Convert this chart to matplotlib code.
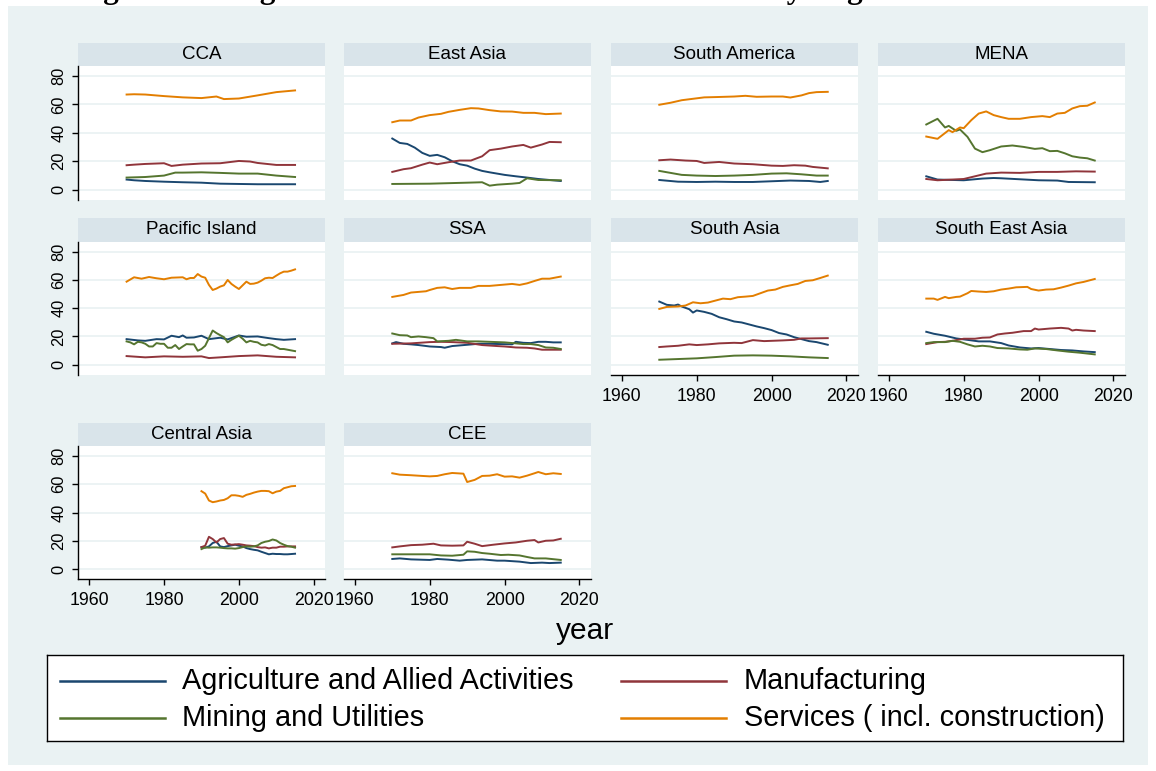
import matplotlib
matplotlib.use("Agg")
import matplotlib.pyplot as plt
from matplotlib.lines import Line2D

plt.rcParams['font.family'] = ['Liberation Sans', 'DejaVu Sans']

# ---------------------------------------------------------------------------
# Value added shares (%) by sector, read as (year, share) pairs per region
# ---------------------------------------------------------------------------
SECTORS = ["Agriculture and Allied Activities", "Manufacturing",
           "Mining and Utilities", "Services ( incl. construction)"]
SECTOR_COLORS = ["#1a476f", "#90353b", "#55752f", "#e37e00"]

cca_agr = [(1970, 7.1), (1972, 6.6), (1975, 6.1), (1980, 5.6), (1985, 5.2), (1990, 4.9),
           (1995, 4.2), (2000, 4.0), (2005, 3.8), (2010, 3.8), (2015, 3.8)]
cca_man = [(1970, 17.2), (1972, 17.6), (1975, 18.1), (1980, 18.6), (1982, 16.7), (1985, 17.6),
           (1990, 18.4), (1995, 18.6), (2000, 20.2), (2003, 19.8), (2005, 18.8), (2010, 17.4),
           (2015, 17.4)]
cca_min = [(1970, 8.5), (1975, 8.9), (1980, 9.9), (1983, 12.0), (1985, 12.0), (1990, 12.2),
           (1995, 11.8), (2000, 11.3), (2005, 11.3), (2010, 9.9), (2015, 8.9)]
cca_ser = [(1970, 67.0), (1972, 67.2), (1975, 67.0), (1980, 65.9), (1985, 65.0), (1990, 64.5),
           (1994, 65.6), (1996, 63.8), (2000, 64.2), (2005, 66.4), (2010, 68.7), (2015, 69.9)]

eas_agr = [(1970, 36.0), (1972, 32.9), (1974, 32.2), (1976, 29.6), (1978, 25.9), (1980, 23.8),
           (1982, 24.5), (1984, 22.8), (1986, 20.0), (1988, 17.9), (1990, 16.9), (1992, 14.8),
           (1994, 13.2), (1996, 12.2), (1998, 11.3), (2000, 10.4), (2003, 9.4), (2006, 8.5),
           (2009, 7.5), (2012, 6.8), (2015, 6.1)]
eas_man = [(1970, 12.5), (1973, 14.4), (1975, 15.1), (1978, 17.6), (1980, 19.1), (1982, 17.9),
           (1985, 19.3), (1988, 20.5), (1991, 20.5), (1994, 23.5), (1996, 27.8), (1999, 28.9),
           (2002, 30.4), (2005, 31.5), (2007, 29.6), (2010, 31.8), (2012, 33.6), (2015, 33.4)]
eas_min = [(1970, 4.0), (1980, 4.2), (1990, 4.9), (1994, 5.2), (1996, 2.8), (1998, 3.5),
           (2002, 4.2), (2004, 4.7), (2006, 8.0), (2009, 6.8), (2015, 6.6)]
eas_ser = [(1970, 47.5), (1972, 48.7), (1975, 48.7), (1977, 50.8), (1980, 52.5), (1983, 53.4),
           (1985, 54.8), (1988, 56.2), (1991, 57.4), (1993, 57.2), (1996, 56.0), (1999, 55.1),
           (2002, 55.0), (2005, 54.1), (2008, 54.1), (2011, 53.2), (2015, 53.6)]

sam_agr = [(1970, 6.8), (1975, 5.6), (1980, 5.4), (1985, 5.6), (1990, 5.4), (1995, 5.4),
           (2000, 5.9), (2005, 6.4), (2010, 6.1), (2013, 5.4), (2015, 6.1)]
sam_man = [(1970, 20.7), (1973, 21.2), (1977, 20.5), (1980, 20.2), (1982, 18.8), (1986, 19.5),
           (1990, 18.4), (1995, 17.9), (2000, 16.9), (2003, 16.7), (2006, 17.2), (2009, 16.9),
           (2011, 16.0), (2015, 15.0)]
sam_min = [(1970, 13.2), (1973, 11.8), (1976, 10.4), (1980, 9.9), (1985, 9.6), (1990, 9.9),
           (1995, 10.4), (2000, 11.3), (2004, 11.5), (2008, 10.8), (2012, 9.9), (2015, 9.9)]
sam_ser = [(1970, 59.8), (1973, 61.2), (1976, 63.0), (1979, 64.0), (1982, 65.0), (1985, 65.2),
           (1990, 65.6), (1993, 66.1), (1996, 65.4), (2000, 65.6), (2003, 65.6), (2005, 64.9),
           (2008, 66.4), (2010, 68.0), (2012, 68.7), (2015, 68.9)]

mena_agr = [(1970, 9.4), (1973, 7.1), (1980, 6.6), (1985, 7.8), (1988, 8.2), (1990, 8.0),
            (1995, 7.3), (2000, 6.6), (2005, 6.4), (2008, 5.4), (2015, 5.2)]
mena_man = [(1970, 7.5), (1973, 6.6), (1980, 7.5), (1983, 9.4), (1986, 11.3), (1990, 12.0),
            (1995, 11.8), (2000, 12.5), (2005, 12.5), (2010, 12.9), (2015, 12.7)]
mena_min = [(1970, 45.9), (1973, 49.9), (1975, 43.8), (1976, 44.9), (1978, 41.4), (1979, 42.4),
            (1981, 37.2), (1983, 28.9), (1985, 26.4), (1987, 27.8), (1990, 30.4), (1993, 31.1),
            (1996, 30.1), (1999, 28.7), (2001, 29.2), (2003, 27.1), (2005, 27.3), (2007, 25.6),
            (2009, 23.5), (2011, 22.6), (2013, 22.1), (2015, 20.5)]
mena_ser = [(1970, 37.4), (1973, 35.8), (1976, 41.9), (1977, 40.5), (1979, 43.8), (1980, 43.3),
            (1982, 48.9), (1984, 53.6), (1986, 55.1), (1988, 52.5), (1990, 51.1), (1992, 49.9),
            (1995, 49.9), (1998, 51.1), (2001, 51.8), (2003, 51.1), (2005, 53.6), (2007, 54.1),
            (2009, 57.2), (2011, 58.8), (2013, 59.1), (2015, 61.4)]

pac_agr = [(1970, 18.1), (1973, 17.2), (1975, 16.9), (1978, 18.1), (1980, 17.9), (1982, 20.5),
           (1984, 19.5), (1985, 20.7), (1986, 19.1), (1988, 19.3), (1990, 20.5), (1992, 18.1),
           (1995, 19.1), (1997, 17.9), (2000, 20.7), (2002, 19.8), (2005, 20.0), (2008, 18.8),
           (2010, 18.1), (2012, 17.6), (2015, 18.1)]
pac_man = [(1970, 6.1), (1975, 5.2), (1980, 5.9), (1985, 5.6), (1990, 5.9), (1992, 4.7),
           (1995, 5.2), (2000, 6.1), (2005, 6.6), (2010, 5.6), (2015, 5.2)]
pac_min = [(1970, 16.5), (1971, 15.8), (1972, 14.4), (1973, 16.2), (1974, 15.8), (1975, 14.8),
           (1976, 12.9), (1977, 12.9), (1978, 15.3), (1979, 14.8), (1980, 14.8), (1981, 12.0),
           (1982, 12.0), (1983, 13.9), (1984, 11.1), (1985, 12.9), (1986, 14.6), (1987, 14.4),
           (1988, 14.4), (1989, 9.9), (1990, 11.1), (1991, 13.4), (1992, 18.8), (1993, 24.2),
           (1994, 22.4), (1995, 20.9), (1996, 19.5), (1997, 15.8), (1998, 17.6), (1999, 19.1),
           (2000, 20.5), (2001, 18.4), (2002, 15.8), (2003, 16.9), (2004, 16.2), (2005, 15.8),
           (2006, 14.1), (2007, 13.6), (2008, 14.6), (2009, 13.9), (2010, 12.5), (2011, 11.1),
           (2012, 11.1), (2013, 10.6), (2014, 10.1), (2015, 9.6)]
pac_ser = [(1970, 58.8), (1972, 61.9), (1974, 60.9), (1976, 62.1), (1978, 61.2), (1980, 60.5),
           (1982, 61.6), (1985, 61.9), (1986, 60.5), (1987, 61.4), (1988, 61.4), (1989, 64.2),
           (1990, 62.4), (1991, 61.6), (1992, 56.5), (1993, 52.9), (1994, 53.9), (1995, 55.3),
           (1996, 56.2), (1997, 60.0), (1998, 57.2), (1999, 55.3), (2000, 53.6), (2001, 56.2),
           (2002, 58.8), (2003, 57.2), (2004, 57.4), (2005, 58.1), (2006, 59.5), (2007, 61.2),
           (2008, 61.6), (2009, 61.4), (2010, 63.1), (2011, 64.7), (2012, 65.9), (2013, 65.9),
           (2014, 66.6), (2015, 67.5)]

ssa_agr = [(1970, 15.1), (1971, 16.0), (1973, 14.8), (1975, 14.4), (1977, 13.9), (1980, 12.9),
           (1983, 12.5), (1984, 12.0), (1986, 13.2), (1990, 14.1), (1993, 14.8), (1996, 14.8),
           (1999, 14.6), (2002, 14.4), (2003, 16.2), (2005, 15.5), (2007, 15.3), (2009, 16.2),
           (2011, 16.2), (2013, 15.8), (2015, 15.8)]
ssa_man = [(1970, 14.8), (1975, 15.1), (1980, 16.0), (1983, 16.2), (1986, 16.0), (1990, 15.5),
           (1994, 13.9), (1998, 13.2), (2000, 12.9), (2003, 12.2), (2006, 12.0), (2008, 11.5),
           (2010, 10.6), (2012, 10.6), (2015, 10.6)]
ssa_min = [(1970, 22.1), (1972, 20.9), (1974, 20.7), (1975, 19.5), (1977, 20.0), (1979, 19.5),
           (1981, 18.8), (1982, 16.5), (1985, 16.9), (1987, 17.6), (1990, 16.5), (1993, 16.5),
           (1996, 16.2), (2000, 15.8), (2003, 15.1), (2005, 14.6), (2007, 14.6), (2009, 13.9),
           (2011, 12.2), (2013, 12.0), (2015, 11.1)]
ssa_ser = [(1970, 48.0), (1973, 49.4), (1975, 51.1), (1979, 52.0), (1980, 52.9), (1982, 54.4),
           (1984, 54.8), (1986, 53.6), (1988, 54.4), (1991, 54.4), (1993, 55.8), (1996, 55.8),
           (1999, 56.5), (2002, 57.2), (2004, 56.5), (2006, 57.6), (2008, 59.3), (2010, 60.9),
           (2012, 60.9), (2015, 62.4)]

sas_agr = [(1970, 44.7), (1972, 42.4), (1974, 41.9), (1975, 42.6), (1976, 41.2), (1978, 39.3),
           (1979, 36.9), (1980, 38.4), (1982, 37.4), (1984, 36.0), (1986, 33.6), (1988, 32.2),
           (1990, 30.6), (1992, 29.9), (1994, 28.5), (1996, 27.1), (1998, 25.9), (2000, 24.5),
           (2002, 22.4), (2004, 21.4), (2006, 19.5), (2008, 18.1), (2010, 16.7), (2012, 16.0),
           (2015, 14.1)]
sas_man = [(1970, 12.5), (1972, 12.9), (1975, 13.4), (1978, 14.4), (1980, 13.9), (1983, 14.4),
           (1986, 15.1), (1990, 15.5), (1992, 15.3), (1995, 17.4), (1998, 16.7), (2000, 16.9),
           (2003, 17.2), (2006, 17.6), (2008, 18.6), (2010, 18.6), (2015, 18.8)]
sas_min = [(1970, 3.5), (1975, 4.0), (1980, 4.5), (1985, 5.4), (1990, 6.4), (1995, 6.6),
           (2000, 6.4), (2005, 5.9), (2010, 5.2), (2015, 4.7)]
sas_ser = [(1970, 39.5), (1972, 40.9), (1975, 41.2), (1977, 41.9), (1979, 44.2), (1981, 43.5),
           (1983, 44.0), (1985, 45.4), (1987, 46.8), (1989, 46.4), (1991, 47.8), (1993, 48.2),
           (1995, 48.7), (1997, 50.6), (1999, 52.5), (2001, 53.2), (2003, 55.1), (2005, 56.2),
           (2007, 57.2), (2009, 59.3), (2011, 59.8), (2013, 61.4), (2015, 63.1)]

sea_agr = [(1970, 23.3), (1972, 21.9), (1975, 20.5), (1978, 18.6), (1981, 17.6), (1984, 16.5),
           (1987, 16.5), (1990, 15.3), (1992, 13.6), (1995, 12.2), (1998, 11.5), (2000, 11.8),
           (2003, 11.1), (2006, 10.4), (2009, 10.1), (2012, 9.4), (2015, 8.9)]
sea_man = [(1970, 14.6), (1973, 16.0), (1975, 16.2), (1977, 16.9), (1980, 18.4), (1983, 18.4),
           (1985, 19.1), (1987, 19.3), (1989, 21.4), (1991, 22.1), (1993, 22.6), (1996, 23.8),
           (1998, 23.8), (1999, 25.6), (2000, 24.9), (2003, 25.6), (2006, 26.1), (2008, 25.6),
           (2009, 24.2), (2010, 24.7), (2012, 24.2), (2015, 23.8)]
sea_min = [(1970, 15.3), (1972, 16.0), (1975, 16.0), (1977, 16.9), (1979, 16.2), (1981, 14.4),
           (1983, 12.9), (1985, 13.4), (1987, 12.9), (1989, 11.8), (1992, 11.5), (1995, 10.8),
           (1997, 10.6), (1999, 11.5), (2002, 11.1), (2005, 10.1), (2008, 9.2), (2011, 8.5),
           (2015, 7.3)]
sea_ser = [(1970, 46.8), (1972, 46.8), (1973, 45.9), (1975, 48.0), (1976, 47.1), (1978, 48.0),
           (1979, 48.2), (1981, 50.6), (1982, 52.2), (1984, 51.8), (1986, 51.5), (1988, 52.0),
           (1990, 53.2), (1992, 53.9), (1994, 54.8), (1997, 55.1), (1998, 53.6), (2000, 52.5),
           (2002, 53.2), (2004, 53.4), (2006, 54.6), (2008, 56.0), (2010, 57.6), (2012, 58.6),
           (2015, 60.7)]

cas_agr = [(1990, 15.5), (1991, 15.1), (1992, 16.0), (1993, 18.4), (1994, 19.3), (1995, 16.0),
           (1996, 15.5), (1997, 16.2), (1998, 16.7), (1999, 17.2), (2000, 16.5), (2001, 16.0),
           (2002, 14.8), (2003, 14.1), (2004, 13.6), (2005, 13.2), (2006, 12.2), (2007, 11.3),
           (2008, 10.4), (2009, 10.8), (2010, 10.6), (2011, 10.6), (2012, 10.4), (2013, 10.4),
           (2014, 10.6), (2015, 10.8)]
cas_man = [(1990, 15.5), (1991, 16.5), (1992, 22.8), (1993, 21.2), (1994, 18.8), (1995, 21.2),
           (1996, 21.9), (1997, 17.9), (1998, 17.2), (1999, 17.4), (2000, 17.6), (2001, 17.2),
           (2002, 16.7), (2003, 16.5), (2004, 16.2), (2005, 15.5), (2006, 15.1), (2007, 15.3),
           (2008, 14.6), (2009, 15.1), (2010, 15.1), (2011, 15.8), (2012, 15.8), (2013, 16.0),
           (2014, 16.0), (2015, 16.0)]
cas_min = [(1990, 14.1), (1991, 15.3), (1992, 15.1), (1993, 15.3), (1994, 15.3), (1995, 15.1),
           (1996, 14.8), (1997, 14.6), (1998, 14.6), (1999, 14.4), (2000, 14.8), (2001, 15.5),
           (2002, 16.0), (2003, 15.8), (2004, 16.0), (2005, 16.7), (2006, 18.4), (2007, 19.3),
           (2008, 19.8), (2009, 20.9), (2010, 20.2), (2011, 18.4), (2012, 17.2), (2013, 16.2),
           (2014, 15.8), (2015, 15.1)]
cas_ser = [(1990, 55.1), (1991, 53.4), (1992, 48.5), (1993, 47.3), (1994, 47.8), (1995, 48.5),
           (1996, 48.9), (1997, 50.1), (1998, 52.2), (1999, 52.2), (2000, 51.8), (2001, 51.1),
           (2002, 52.5), (2003, 53.2), (2004, 54.1), (2005, 54.8), (2006, 55.3), (2007, 55.3),
           (2008, 55.1), (2009, 53.6), (2010, 54.8), (2011, 55.3), (2012, 57.2), (2013, 57.9),
           (2014, 58.6), (2015, 58.8)]

cee_agr = [(1970, 7.1), (1972, 7.5), (1975, 6.8), (1980, 6.4), (1982, 7.1), (1985, 6.6),
           (1988, 5.9), (1990, 6.4), (1994, 6.8), (1998, 5.9), (2000, 5.9), (2004, 5.2),
           (2007, 4.2), (2010, 4.5), (2012, 4.2), (2015, 4.5)]
cee_man = [(1970, 15.3), (1972, 16.0), (1975, 16.9), (1978, 17.2), (1981, 17.9), (1983, 16.7),
           (1986, 16.5), (1989, 16.7), (1990, 19.3), (1992, 17.9), (1994, 16.2), (1997, 17.2),
           (2000, 18.1), (2003, 18.8), (2006, 20.0), (2008, 20.5), (2009, 18.8), (2011, 20.0),
           (2013, 20.2), (2015, 21.4)]
cee_min = [(1970, 10.4), (1975, 10.4), (1980, 10.4), (1983, 9.6), (1986, 9.4), (1989, 10.1),
           (1990, 12.5), (1992, 12.2), (1994, 11.3), (1996, 10.8), (1999, 9.9), (2001, 10.1),
           (2004, 9.6), (2006, 8.5), (2008, 7.5), (2011, 7.5), (2015, 6.4)]
cee_ser = [(1970, 67.8), (1972, 66.8), (1975, 66.4), (1978, 65.9), (1980, 65.6), (1982, 65.9),
           (1984, 67.1), (1986, 68.0), (1989, 67.5), (1990, 61.6), (1992, 63.1), (1994, 65.9),
           (1996, 66.1), (1998, 67.1), (2000, 65.4), (2002, 65.6), (2004, 64.7), (2006, 66.1),
           (2008, 67.8), (2009, 68.7), (2011, 67.1), (2013, 67.8), (2015, 67.3)]

REGIONS = ["CCA", "East Asia", "South America", "MENA",
           "Pacific Island", "SSA", "South Asia", "South East Asia",
           "Central Asia", "CEE"]
REGION_SERIES = {
    "CCA": [cca_agr, cca_man, cca_min, cca_ser],
    "East Asia": [eas_agr, eas_man, eas_min, eas_ser],
    "South America": [sam_agr, sam_man, sam_min, sam_ser],
    "MENA": [mena_agr, mena_man, mena_min, mena_ser],
    "Pacific Island": [pac_agr, pac_man, pac_min, pac_ser],
    "SSA": [ssa_agr, ssa_man, ssa_min, ssa_ser],
    "South Asia": [sas_agr, sas_man, sas_min, sas_ser],
    "South East Asia": [sea_agr, sea_man, sea_min, sea_ser],
    "Central Asia": [cas_agr, cas_man, cas_min, cas_ser],
    "CEE": [cee_agr, cee_man, cee_min, cee_ser],
}

X_TICKS = [1960, 1980, 2000, 2020]
Y_TICKS = [0, 20, 40, 60, 80]
TITLE = "Figure 1: Long-term Trends in Value Added Shares by Region of the World"

# ---------------------------------------------------------------------------
# Figure layout (pixel coordinates)
# ---------------------------------------------------------------------------
W, H = 1156, 771
BG = "#eaf2f3"
STRIP = "#d9e4ea"

fig = plt.figure(figsize=(W / 100, H / 100), dpi=100, facecolor="white")


def rect(x0, y0, x1, y1):
    return [x0 / W, 1 - y1 / H, (x1 - x0) / W, (y1 - y0) / H]


# graph region background
bg_ax = fig.add_axes(rect(8, 6, 1148, 765), zorder=-10)
bg_ax.set_facecolor(BG)
bg_ax.set_xticks([])
bg_ax.set_yticks([])
for sp in bg_ax.spines.values():
    sp.set_visible(False)

# page title, running off the top edge
fig.text(0.5, 1 + 2 / H, TITLE, ha="center", va="baseline",
         fontfamily="Liberation Serif", fontweight="bold", fontsize=22.6)

COLS = [(78.3, 325.0), (344.0, 590.7), (611.0, 857.7), (878.0, 1124.7)]
ROWS = [(42.7, 66.0, 200.0), (218.3, 241.7, 375.0), (422.7, 446.0, 579.3)]
BOTTOM_PANELS = {6, 7, 8, 9}

for i, region in enumerate(REGIONS):
    r, c = divmod(i, 4)
    x0, x1 = COLS[c]
    s0, p0, p1 = ROWS[r]

    sax = fig.add_axes(rect(x0, s0, x1, p0))
    sax.set_facecolor(STRIP)
    sax.set_xticks([])
    sax.set_yticks([])
    for sp in sax.spines.values():
        sp.set_visible(False)
    sax.text(0.5, 0.5, region, ha="center", va="center", fontsize=13.5,
             transform=sax.transAxes)

    ax = fig.add_axes(rect(x0, p0, x1, p1))
    ax.set_facecolor("white")
    ax.set_xlim(1957.1, 2023.0)
    ax.set_ylim(-7.3, 87.1)
    ax.set_xticks(X_TICKS)
    ax.set_yticks(Y_TICKS)
    ax.grid(axis="y", color=BG, lw=1.3)
    ax.grid(axis="x", visible=False)
    ax.set_axisbelow(True)
    for name in ("top", "right"):
        ax.spines[name].set_visible(False)

    if c == 0:
        ax.spines["left"].set_color("black")
        ax.spines["left"].set_linewidth(1.0)
        ax.tick_params(axis="y", length=4.5, width=1.0, pad=4.0, labelsize=11.8,
                       labelrotation=90)
        for lab in ax.get_yticklabels():
            lab.set_verticalalignment("center")
    else:
        ax.spines["left"].set_visible(False)
        ax.tick_params(axis="y", left=False, labelleft=False)

    if i in BOTTOM_PANELS:
        ax.spines["bottom"].set_color("black")
        ax.spines["bottom"].set_linewidth(1.0)
        ax.tick_params(axis="x", length=4.5, width=1.0, pad=4.5, labelsize=12.8)
    else:
        ax.spines["bottom"].set_visible(False)
        ax.tick_params(axis="x", bottom=False, labelbottom=False)

    for series, color in zip(REGION_SERIES[region], SECTOR_COLORS):
        years = [p[0] for p in series]
        vals = [p[1] for p in series]
        ax.plot(years, vals, color=color, lw=1.4, solid_joinstyle="round")

fig.text(585 / W, 1 - 631 / H, "year", ha="center", va="center", fontsize=21.5)

# Legend box
lax = fig.add_axes(rect(47, 655, 1123, 741))
lax.set_xlim(47, 1123)
lax.set_ylim(741, 655)
lax.set_facecolor("white")
lax.set_xticks([])
lax.set_yticks([])
for sp in lax.spines.values():
    sp.set_color("black")
    sp.set_linewidth(1.0)

LEG_POS = [(60, 165, 182, 681), (621, 726, 744, 681),
           (60, 165, 182, 718), (621, 726, 744, 718)]
for (lx0, lx1, tx, ly), label, color in zip(LEG_POS, SECTORS, SECTOR_COLORS):
    lax.add_line(Line2D([lx0, lx1], [ly, ly], color=color, lw=1.8))
    lax.text(tx, ly, label, ha="left", va="center", fontsize=20.8)

fig.savefig("out.png", dpi=100, facecolor=fig.get_facecolor())
